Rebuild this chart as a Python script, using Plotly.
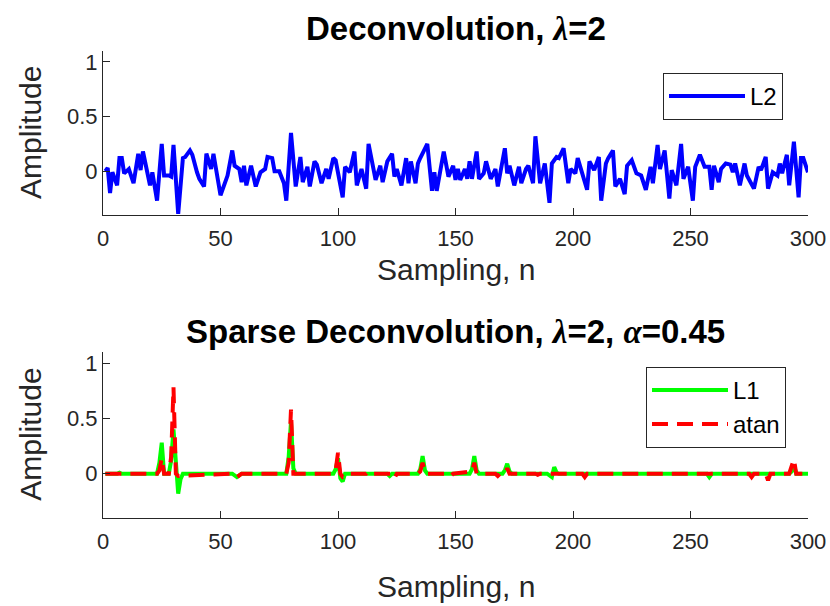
import plotly.graph_objects as go

# ---------------- data ----------------
top_n = [1, 2, 3, 4, 6, 7, 8, 9, 11, 13, 15, 16, 17, 20, 21, 23, 25, 26, 28, 29,
         30, 32, 34, 35, 37, 38, 40, 41, 43, 44, 46, 47, 50, 52, 53, 55, 56, 58, 59, 60,
         61, 63, 65, 67, 69, 70, 72, 73, 75, 77, 78, 80, 82, 84, 85, 87, 88, 90, 91, 93,
         95, 96, 98, 99, 101, 102, 103, 105, 107, 108, 110, 112, 113, 116, 118, 119, 121, 123, 124, 125,
         127, 129, 130, 131, 133, 134, 135, 138, 140, 141, 142, 145, 147, 149, 150, 151, 152, 154, 155, 156,
         157, 159, 160, 162, 163, 165, 167, 168, 171, 172, 173, 175, 177, 178, 180, 181, 183, 184, 186, 188,
         190, 191, 193, 194, 196, 198, 199, 201, 202, 204, 206, 207, 209, 211, 212, 214, 215, 217, 218, 220,
         222, 223, 225, 227, 229, 231, 233, 234, 236, 237, 239, 241, 242, 244, 246, 247, 249, 251, 252, 254,
         256, 258, 259, 260, 262, 263, 265, 267, 268, 269, 271, 273, 274, 277, 279, 280, 282, 283, 285, 287,
         288, 289, 291, 292, 294, 296, 297, 298, 300]
top_v = [0.00, 0.03, -0.20, -0.01, -0.13, 0.12, 0.12, -0.02, 0.02, -0.11, 0.16, 0.01, 0.18, -0.13, -0.01, -0.27, 0.25, -0.04, -0.04, -0.05,
         0.24, -0.39, 0.12, 0.13, 0.19, 0.15, -0.01, -0.07, -0.14, 0.16, 0.02, 0.16, -0.22, -0.11, -0.04, 0.19, 0.05, 0.02, -0.10, 0.05,
         -0.13, 0.05, -0.14, -0.01, 0.02, 0.13, 0.12, 0.00, 0.00, -0.11, -0.27, 0.35, -0.14, 0.13, -0.10, 0.04, -0.14, 0.09, 0.06, -0.11,
         0.02, -0.07, 0.12, 0.10, -0.14, -0.24, 0.04, -0.01, 0.18, -0.13, 0.02, -0.16, 0.25, -0.08, 0.05, -0.10, 0.09, 0.16, -0.05, 0.02,
         -0.13, 0.12, -0.11, 0.09, -0.11, 0.07, 0.12, 0.25, -0.18, -0.01, -0.18, 0.18, -0.05, 0.05, -0.08, 0.02, -0.08, 0.02, -0.07, 0.09,
         -0.07, 0.18, -0.07, -0.02, 0.09, -0.07, 0.02, -0.14, 0.21, -0.02, 0.05, -0.13, 0.04, -0.11, 0.02, 0.05, -0.11, 0.32, -0.11, 0.07,
         -0.29, 0.07, 0.13, 0.12, 0.21, -0.11, 0.02, -0.02, 0.12, -0.04, -0.17, 0.09, 0.01, 0.13, -0.27, 0.07, 0.12, 0.19, -0.14, -0.07,
         -0.21, 0.05, 0.10, -0.02, -0.04, -0.17, 0.04, -0.11, 0.24, 0.02, 0.19, -0.25, 0.01, -0.13, 0.25, -0.07, 0.04, -0.27, 0.04, 0.15,
         0.04, 0.04, -0.17, 0.05, -0.10, 0.02, 0.07, 0.06, -0.01, 0.07, -0.13, 0.07, -0.04, -0.16, 0.04, 0.01, 0.13, -0.16, -0.01, -0.04,
         0.07, -0.02, 0.15, -0.13, 0.27, -0.24, 0.12, 0.12, -0.01]

l1_n = [1, 6, 7, 8, 23, 24, 25, 26, 28, 29, 30, 31, 32, 33, 34, 55, 57, 59, 78, 79,
        80, 81, 82, 98, 99, 100, 101, 102, 103, 121, 122, 123, 134, 135, 136, 137, 138, 156, 157, 158,
        159, 160, 170, 171, 172, 173, 174, 189, 190, 191, 192, 193, 194, 257, 258, 259, 292, 293, 294, 295,
        300]
l1_v = [0.0, 0.0, 0.01, 0.0, 0.0, 0.10, 0.28, 0.0, 0.0, 0.12, 0.40, 0.05, -0.18, -0.05, 0.0, 0.0, -0.03, 0.0, 0.0, 0.15,
        0.47, 0.05, 0.0, 0.0, 0.04, 0.14, -0.04, -0.07, 0.0, 0.0, -0.02, 0.0, 0.0, 0.04, 0.16, 0.03, 0.0, 0.0, 0.04, 0.16,
        0.03, 0.0, 0.0, 0.03, 0.09, 0.02, 0.0, 0.0, -0.01, -0.03, 0.06, 0.01, 0.0, 0.0, -0.03, 0.0, 0.0, 0.02, 0.08, 0.0,
        0.0]

atan_n = [1, 23, 24, 25, 26, 27, 28, 29, 30, 31, 32, 55, 57, 59, 78, 79, 80, 81, 82, 98,
          99, 100, 101, 102, 103, 104, 112, 113, 114, 123, 124, 125, 134, 135, 136, 137, 138, 147, 148, 149,
          157, 158, 159, 167, 168, 169, 171, 172, 173, 184, 185, 186, 204, 205, 206, 229, 230, 231, 275, 276,
          277, 282, 283, 284, 292, 293, 294, 295, 300]
atan_v = [0.0, 0.0, 0.03, 0.14, 0.0, 0.0, 0.0, 0.15, 0.78, 0.0, -0.02, 0.0, -0.03, 0.0, 0.0, 0.10, 0.58, 0.0, 0.0, 0.0,
          0.03, 0.19, 0.0, -0.03, -0.02, 0.0, 0.0, 0.02, 0.0, 0.0, -0.04, 0.0, 0.0, 0.02, 0.10, 0.01, 0.0, 0.0, -0.02, 0.0,
          0.02, 0.10, 0.0, 0.0, -0.02, 0.0, 0.0, 0.05, 0.0, 0.0, -0.01, 0.0, 0.0, -0.03, 0.0, 0.0, -0.01, 0.0, 0.0, -0.03,
          0.0, 0.0, -0.06, 0.0, 0.0, 0.06, 0.13, 0.0, 0.0]

x_ticks = [0, 50, 100, 150, 200, 250, 300]
y_ticks = [0, 0.5, 1]
y_tick_text = ["0", "0.5", "1"]

# ---------------- figure ----------------
W, H = 830, 606
FONT = "Liberation Sans, Arial, sans-serif"
AX = "#262626"

# plot-area in pixels
L, R, T, B = 103, 808, 51, 518.3
PW, PH = R - L, B - T

def px_x(p):
    return (p - L) / PW

def px_y(p):
    return (B - p) / PH

fig = go.Figure()
fig.add_trace(go.Scatter(x=top_n, y=top_v, mode="lines", name="L2", showlegend=True,
                         line=dict(color="#0000FF", width=4), xaxis="x", yaxis="y",
                         legend="legend"))
fig.add_trace(go.Scatter(x=l1_n, y=l1_v, mode="lines", name="L1", showlegend=True,
                         line=dict(color="#00FF00", width=4), xaxis="x2", yaxis="y2",
                         legend="legend2"))
fig.add_trace(go.Scatter(x=atan_n, y=atan_v, mode="lines", name="atan", showlegend=True,
                         line=dict(color="#FF0000", width=4, dash="16px,9px"),
                         xaxis="x2", yaxis="y2", legend="legend2"))

top_dom = [px_y(215), 1.0]
bot_dom = [0.0, px_y(352.2)]

def xaxis(anchor):
    return dict(domain=[0, 1], range=[0, 300], tickvals=x_ticks, ticks="inside", ticklen=7,
                tickcolor=AX, showline=True, linecolor=AX, linewidth=1, mirror=False,
                showgrid=False, zeroline=False, anchor=anchor, automargin=False,
                ticklabelstandoff=4,
                tickfont=dict(family=FONT, size=22, color=AX))

def yaxis(dom, anchor):
    return dict(domain=dom, range=[-0.4, 1.1], tickvals=y_ticks, ticktext=y_tick_text,
                ticks="inside", ticklen=7, tickcolor=AX, showline=True, linecolor=AX,
                linewidth=1, showgrid=False, zeroline=False, anchor=anchor, automargin=False,
                tickfont=dict(family=FONT, size=22, color=AX))

lam = '<span style="font-family:Liberation Serif"><i>λ</i></span>'
alp = '<span style="font-family:Liberation Serif"><i>α</i></span>'

def label(text, x, y, angle=0):
    return dict(text=text, x=px_x(x), y=px_y(y), xref="paper", yref="paper",
                showarrow=False, xanchor="center", yanchor="middle", textangle=angle,
                font=dict(family=FONT, size=30, color=AX))

fig.update_layout(
    width=W, height=H,
    margin=dict(l=L, r=W - R, t=T, b=H - B, autoexpand=False),
    paper_bgcolor="white", plot_bgcolor="white",
    xaxis=xaxis("y"), yaxis=yaxis(top_dom, "x"),
    xaxis2=xaxis("y2"), yaxis2=yaxis(bot_dom, "x2"),
    legend=dict(x=px_x(663), y=px_y(73), xanchor="left", yanchor="top",
                bgcolor="white", bordercolor=AX, borderwidth=1, itemwidth=76,
                font=dict(family=FONT, size=24, color="black")),
    legend2=dict(x=px_x(646), y=px_y(367), xanchor="left", yanchor="top",
                 bgcolor="white", bordercolor=AX, borderwidth=1, itemwidth=76,
                 font=dict(family=FONT, size=24, color="black")),
    annotations=[
        dict(text=f"<b>Deconvolution, {lam}=2</b>", x=px_x(455.5), y=px_y(28),
             xref="paper", yref="paper", showarrow=False, xanchor="center", yanchor="middle",
             font=dict(family=FONT, size=33, color="black")),
        dict(text=f"<b>Sparse Deconvolution, {lam}=2, {alp}=0.45</b>", x=px_x(455.5),
             y=px_y(332), xref="paper", yref="paper", showarrow=False, xanchor="center",
             yanchor="middle", font=dict(family=FONT, size=33, color="black")),
        label("Sampling, n", 455.5, 270),
        label("Sampling, n", 455.5, 587),
        label("Amplitude", 31, 133, -90),
        label("Amplitude", 31, 435, -90),
    ],
)

fig.write_html("out.html")
